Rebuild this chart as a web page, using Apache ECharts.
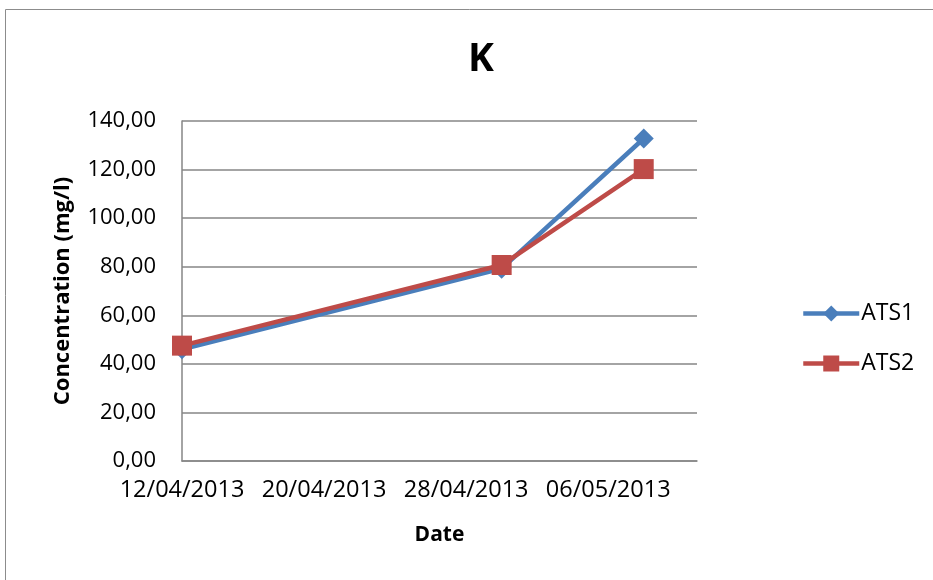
<!DOCTYPE html>
<html>
<head>
<meta charset="utf-8">
<script src="https://cdn.jsdelivr.net/npm/echarts@6/dist/echarts.min.js"></script>
<style>
  html, body { margin: 0; padding: 0; background: #fff; }
  #chart { width: 933px; height: 580px; }
</style>
</head>
<body>
<div id="chart"></div>
<script>
// data
var startDate = '12/04/2013';
var dates = ['12/04/2013', '30/04/2013', '08/05/2013'];
var ats1 = [46.0, 79.2, 132.8];
var ats2 = [47.5, 80.7, 120.2];
var xMaxDays = 29;   // axis ends on 11/05/2013
var xStepDays = 8;
var yTicks = [0, 20, 40, 60, 80, 100, 120, 140];

function parseDate(s) {
  var p = s.split('/');
  return Date.UTC(+p[2], +p[1] - 1, +p[0]);
}
var DAY = 86400000;
var t0 = parseDate(startDate);

function dayOffset(s) {
  return Math.round((parseDate(s) - t0) / DAY);
}
function pad(n) { return n < 10 ? '0' + n : '' + n; }
function fmtDay(v) {
  var d = new Date(t0 + v * DAY);
  return pad(d.getUTCDate()) + '/' + pad(d.getUTCMonth() + 1) + '/' + d.getUTCFullYear();
}

var s1 = dates.map(function (d, i) { return [dayOffset(d), ats1[i]]; });
var s2 = dates.map(function (d, i) { return [dayOffset(d), ats2[i]]; });

var font = '"Open Sans", "Noto Sans", sans-serif';
var gridColor = '#868686';

var chart = echarts.init(document.getElementById('chart'));
chart.setOption({
  animation: false,
  textStyle: { fontFamily: font },
  graphic: [{
    type: 'rect',
    shape: { x: 5.5, y: 9.5, width: 1000, height: 1000 },
    style: { fill: 'none', stroke: '#8c8c8c', lineWidth: 1 },
    silent: true
  }],
  title: {
    text: 'K',
    left: 476,
    top: 35,
    textAlign: 'center',
    textStyle: { fontFamily: font, fontSize: 39, fontWeight: 'bold', color: '#000' }
  },
  grid: { left: 182, right: 236, top: 121, bottom: 119 },
  legend: {
    orient: 'vertical',
    left: 801,
    top: 302,
    padding: 0,
    itemWidth: 56,
    itemHeight: 20,
    itemGap: 27,
    lineStyle: { width: 4.5 },
    textStyle: { fontFamily: font, fontSize: 23, color: '#000', padding: [0, 0, 0, -3] },
    data: ['ATS1', 'ATS2']
  },
  xAxis: {
    type: 'value',
    min: 0,
    max: xMaxDays,
    interval: xStepDays,
    name: 'Date',
    nameLocation: 'middle',
    nameGap: 64,
    nameTextStyle: { fontFamily: font, fontSize: 21, fontWeight: 'bold', color: '#000' },
    axisLine: { show: true, lineStyle: { color: gridColor, width: 1.5 } },
    axisTick: { show: false },
    splitLine: { show: false },
    axisLabel: {
      fontFamily: font,
      fontSize: 23.5,
      color: '#000',
      margin: 17,
      showMaxLabel: false,
      formatter: function (v) { return v % xStepDays === 0 ? fmtDay(v) : ''; }
    }
  },
  yAxis: {
    type: 'value',
    min: yTicks[0],
    max: yTicks[yTicks.length - 1],
    interval: yTicks[1] - yTicks[0],
    name: 'Concentration (mg/l)',
    nameLocation: 'middle',
    nameGap: 108,
    nameRotate: 90,
    nameTextStyle: { fontFamily: font, fontSize: 22, fontWeight: 'bold', color: '#000' },
    axisLine: { show: true, lineStyle: { color: gridColor, width: 1.5 } },
    axisTick: { show: false },
    splitLine: { show: true, lineStyle: { color: gridColor, width: 1.5 } },
    axisLabel: {
      fontFamily: font,
      fontSize: 22,
      color: '#000',
      margin: 26,
      formatter: function (v) { return v.toFixed(2).replace('.', ','); }
    }
  },
  series: [
    {
      name: 'ATS1',
      type: 'line',
      data: s1,
      symbol: 'diamond',
      symbolSize: 20,
      lineStyle: { width: 4.5, color: '#4A7EBB' },
      itemStyle: { color: '#4A7EBB' }
    },
    {
      name: 'ATS2',
      type: 'line',
      data: s2,
      symbol: 'rect',
      symbolSize: 20,
      lineStyle: { width: 4.5, color: '#BE4B48' },
      itemStyle: { color: '#BE4B48' }
    }
  ]
});
</script>
</body>
</html>
